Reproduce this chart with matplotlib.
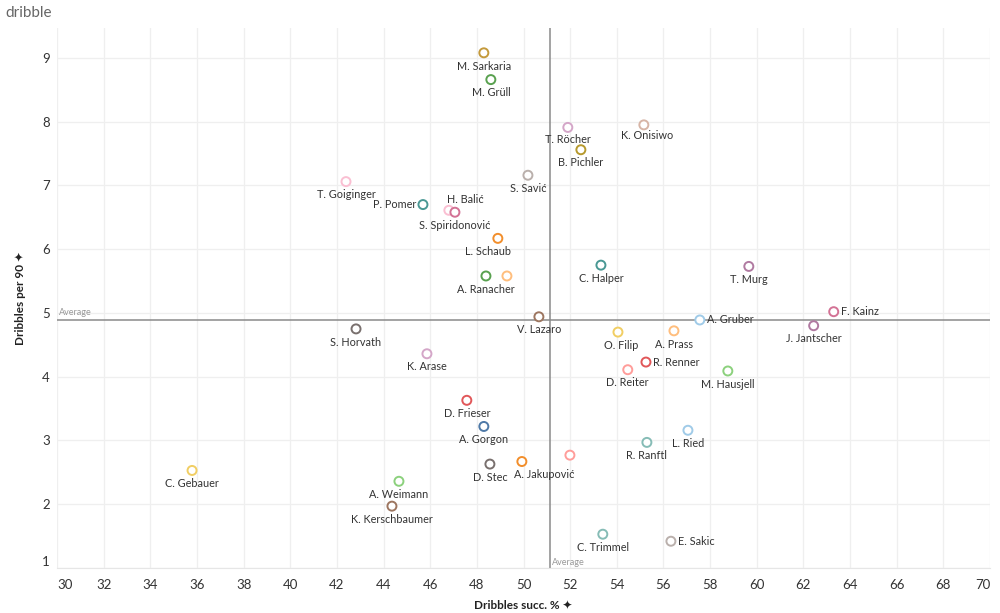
import matplotlib.pyplot as plt

plt.rcParams['font.family'] = ['Lato', 'DejaVu Sans']

players = ["M. Sarkaria", "M. Grüll", "T. Röcher", "K. Onisiwo", "B. Pichler", "S. Savić",
           "T. Goiginger", "P. Pomer", "H. Balić", "S. Spiridonović", "L. Schaub", "A. Ranacher",
           "", "C. Halper", "T. Murg", "F. Kainz", "A. Gruber", "J. Jantscher", "V. Lazaro",
           "S. Horvath", "O. Filip", "A. Prass", "K. Arase", "R. Renner", "D. Reiter",
           "M. Hausjell", "D. Frieser", "A. Gorgon", "L. Ried", "R. Ranftl", "D. Stec",
           "A. Jakupović", "", "C. Gebauer", "A. Weimann", "K. Kerschbaumer", "C. Trimmel",
           "E. Sakic"]
succ_pct = [48.30, 48.60, 51.90, 55.16, 52.46, 50.19, 42.39, 45.69, 46.80, 47.06, 48.90, 48.39,
            49.29, 53.32, 59.66, 63.30, 57.56, 62.44, 50.66, 42.82, 54.05, 56.45, 45.86, 55.25,
            54.47, 58.76, 47.57, 48.30, 57.05, 55.29, 48.56, 49.93, 51.99, 35.79, 44.66, 44.36,
            53.40, 56.32]
per90 = [9.08, 8.66, 7.91, 7.95, 7.56, 7.16, 7.06, 6.70, 6.61, 6.58, 6.17, 5.58,
         5.58, 5.75, 5.73, 5.02, 4.89, 4.80, 4.94, 4.75, 4.70, 4.72, 4.36, 4.23,
         4.11, 4.09, 3.63, 3.22, 3.16, 2.97, 2.63, 2.67, 2.77, 2.53, 2.36, 1.97,
         1.53, 1.42]
colors = ["#c49a3c", "#59a14f", "#d4a6c8", "#d7b5a6", "#b6992d", "#bab0ac",
          "#fabfd2", "#499894", "#fabfd2", "#d37295", "#f28e2b", "#59a14f",
          "#ffbe7d", "#499894", "#b07aa1", "#d37295", "#a0cbe8", "#b07aa1", "#9d7660",
          "#79706e", "#f1ce63", "#ffbe7d", "#d4a6c8", "#e15759", "#ff9d9a",
          "#8cd17d", "#e15759", "#4e79a7", "#a0cbe8", "#86bcb6", "#79706e",
          "#f28e2b", "#ff9d9a", "#f1ce63", "#8cd17d", "#9d7660", "#86bcb6",
          "#bab0ac"]
avg_x = 51.13
avg_y = 4.89

# label placement (offset in points, alignment); default is centered below
placement = {
    "P. Pomer": (-5, 0, 'right', 'center'),
    "H. Balić": (12, 8, 'center', 'center'),
    "F. Kainz": (5, 0, 'left', 'center'),
    "A. Gruber": (5, 0, 'left', 'center'),
    "R. Renner": (5, 0, 'left', 'center'),
    "E. Sakic": (5, 0, 'left', 'center'),
    "L. Schaub": (-7, -9.5, 'center', 'center'),
    "A. Jakupović": (16, -9.5, 'center', 'center'),
    "T. Röcher": (0, -9, 'center', 'center'),
    "K. Onisiwo": (2, -8, 'center', 'center'),
    "O. Filip": (2, -9.5, 'center', 'center'),
}

fig = plt.figure(figsize=(10, 6.13), dpi=100)
ax = fig.add_axes([0.057, 0.0734, 0.933, 0.881])

ax.scatter(succ_pct, per90, s=42, facecolors='white', edgecolors=colors, linewidths=1.4, zorder=3)

for name, x, y in zip(players, succ_pct, per90):
    if not name:
        continue
    dx, dy, ha, va = placement.get(name, (0, -9.5, 'center', 'center'))
    ax.annotate(name, (x, y), xytext=(dx, dy), textcoords='offset points',
                ha=ha, va=va, fontsize=7.8, color='#333333', zorder=4)

ax.axvline(avg_x, color='#8a8a8a', lw=1.1, zorder=2)
ax.axhline(avg_y, color='#8a8a8a', lw=1.1, zorder=2)
ax.text(30.1, avg_y + 0.04, "Average", fontsize=6.5, color='#999999', va='bottom', ha='left')
ax.text(avg_x + 0.1, 1.02, "Average", fontsize=6.5, color='#999999', va='bottom', ha='left')

ax.set_xlim(30, 70)
ax.set_ylim(1, 9.47)
ax.set_xticks(range(30, 71, 2))
ax.set_yticks(range(1, 10))
ax.grid(True, color='#efefef', lw=0.9, zorder=0)
for s in ['top', 'right', 'left']:
    ax.spines[s].set_visible(False)
ax.spines['bottom'].set_color('#e6e6e6')
ax.tick_params(length=0, labelsize=9.5, colors='#333333', pad=8)
ax.tick_params(axis='y', pad=5)
xl = ax.get_xticklabels()
xl[0].set_ha('left')
xl[-1].set_ha('right')
yl = ax.get_yticklabels()
yl[0].set_va('bottom')

ax.set_xlabel("Dribbles succ. % \u2726", fontsize=8.5, fontweight='bold', color='#222222', labelpad=6)
ax.set_ylabel("Dribbles per 90 \u2726", fontsize=8.5, fontweight='bold', color='#222222', labelpad=12)

fig.text(0.005, 0.978, "dribble", fontsize=11, color='#666666', ha='left', va='center')

fig.savefig("out.png", dpi=100)
